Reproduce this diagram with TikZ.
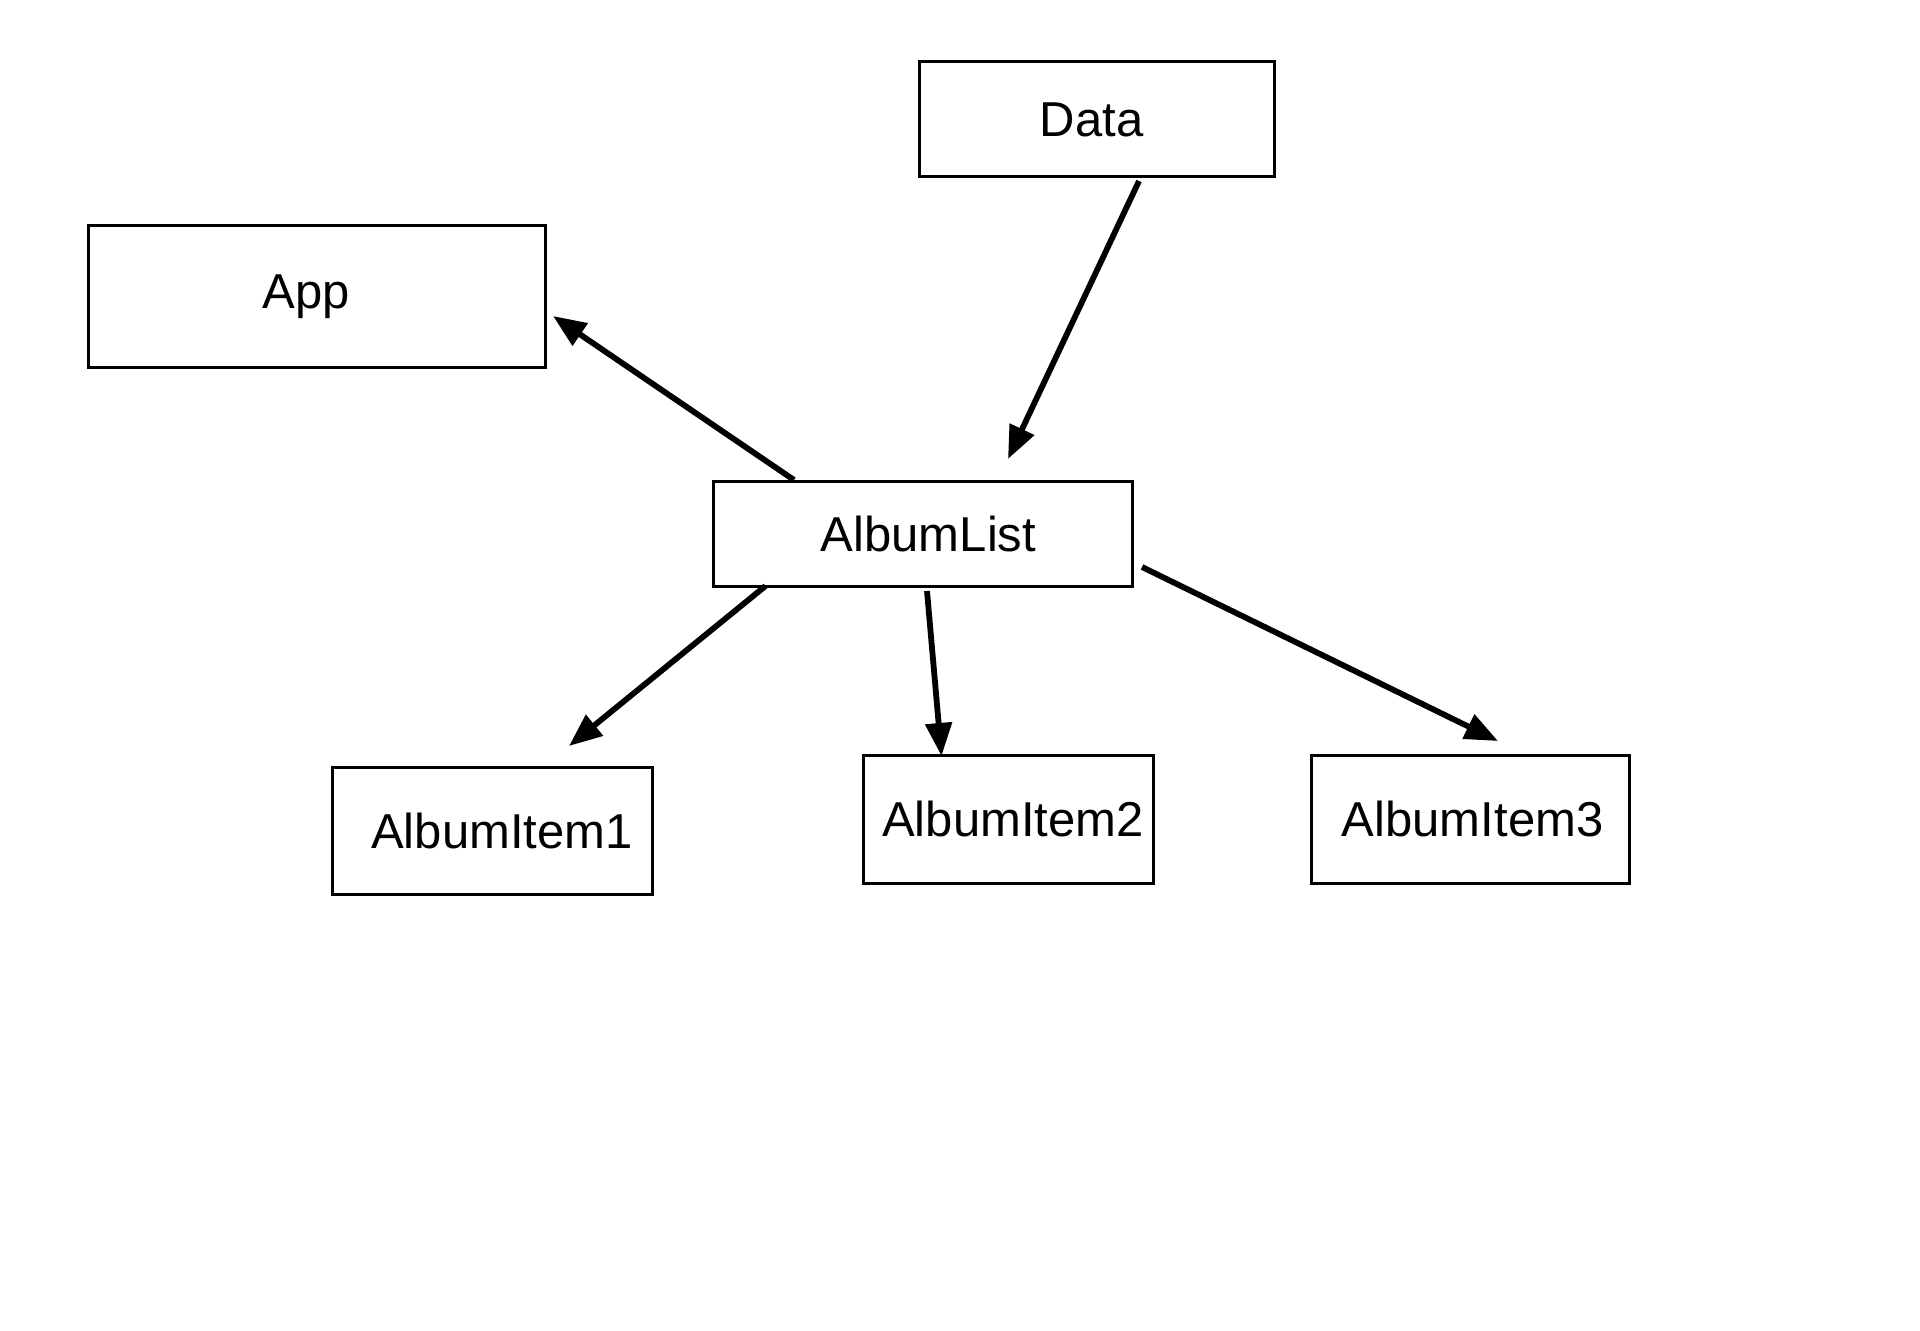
\documentclass[tikz,border=0pt]{standalone}
\usepackage{fontspec}
\setmainfont{Liberation Sans}
\usetikzlibrary{arrows.meta}
\begin{document}
\begin{tikzpicture}[x=0.5pt,y=-0.5pt,
  box/.style={draw=black,line width=1.5pt,rectangle,inner sep=0pt,outer sep=0pt,font=\fontsize{24.5pt}{29pt}\selectfont},
  conn/.style={line width=2.9pt,-{Triangle[length=16.5pt,width=13pt]}}]
\useasboundingbox (0,0) rectangle (1920,1331);
\fill[white] (0,0) rectangle (1920,1331);
\node[box,minimum width=177.5pt,minimum height=57.5pt] (data) at (1096.5,119.5) {\hspace{-5pt}Data};
\node[box,minimum width=228.5pt,minimum height=71pt] (app) at (316.5,297) {\hspace{-10pt}App};
\node[box,minimum width=209.5pt,minimum height=52pt] (list) at (922.5,534) {\hspace{6pt}AlbumList};
\node[box,minimum width=160pt,minimum height=63.5pt] (item1) at (492,830.5) {\hspace{10pt}AlbumItem1};
\node[box,minimum width=145pt,minimum height=64pt] (item2) at (1008,819) {\hspace{5pt}AlbumItem2};
\node[box,minimum width=158.8pt,minimum height=64pt] (item3) at (1470.6,819) {\hspace{2pt}AlbumItem3};
\coordinate (dA) at (1139,181);
\coordinate (dB) at (1008,459);
\coordinate (aA) at (794,480);
\coordinate (aB) at (553,316);
\coordinate (i1A) at (765.5,586);
\coordinate (i1B) at (569,746);
\coordinate (i2A) at (927,591);
\coordinate (i2B) at (941.5,756);
\coordinate (i3A) at (1142,567);
\coordinate (i3B) at (1498,741);
\draw[conn] (dA) -- (dB);
\draw[conn] (aA) -- (aB);
\draw[conn] (i1A) -- (i1B);
\draw[conn] (i2A) -- (i2B);
\draw[conn] (i3A) -- (i3B);
\end{tikzpicture}
\end{document}
